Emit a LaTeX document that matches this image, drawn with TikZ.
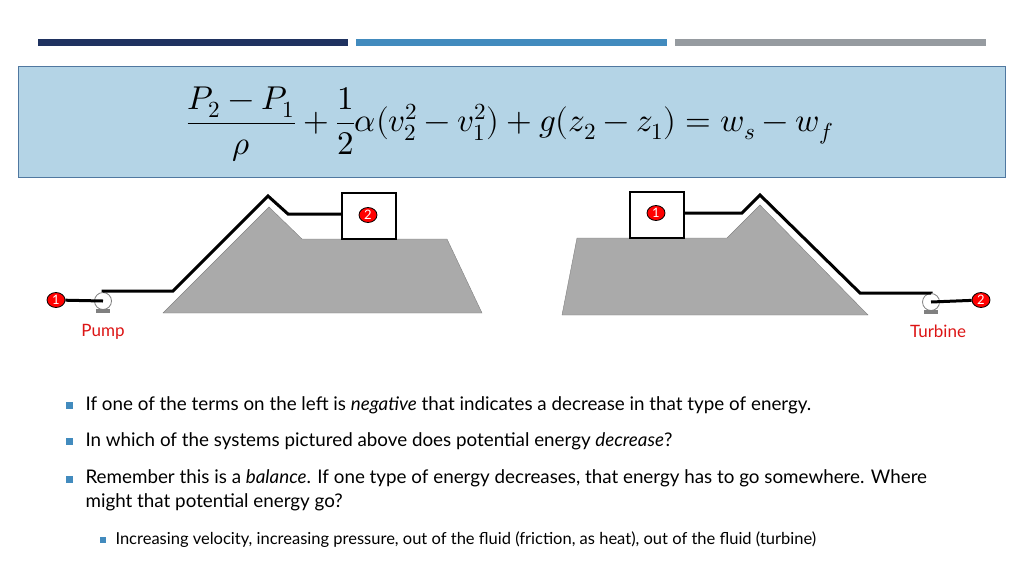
\documentclass[tikz,border=0pt]{standalone}
\usepackage{amsmath}
\usepackage{fontspec}
\usepackage{unicode-math}
\setmainfont{Lato}
\setmathfont{Latin Modern Math}
\usetikzlibrary{positioning,shapes.geometric}
\definecolor{navy}{RGB}{31,50,96}
\definecolor{barblue}{RGB}{66,139,190}
\definecolor{bargray}{RGB}{150,155,160}
\definecolor{eqfill}{RGB}{180,212,230}
\definecolor{eqline}{RGB}{80,120,160}
\definecolor{hill}{RGB}{170,170,170}
\definecolor{labred}{RGB}{220,20,20}
\tikzset{
  pt/.style={ellipse, draw=black, thick, fill=red, text=white, inner sep=0pt,
    minimum width=18pt, minimum height=15pt, font=\fontsize{13}{13}\selectfont},
  tank/.style={draw=black, line width=2pt, fill=white, minimum width=54pt, minimum height=46pt},
  pipe/.style={line width=3pt, black},
  machine/.style={circle, draw=gray, thick, fill=white, minimum size=17pt, inner sep=0pt},
  bul/.style={fill=barblue, minimum size=7pt, inner sep=0pt},
  txt/.style={anchor=west, font=\fontsize{18.8}{24}\selectfont, align=left}
}
\begin{document}
\begin{tikzpicture}[x=1pt,y=-1pt]
\useasboundingbox (0,0) rectangle (1024,576);
% top bars
\fill[navy] (38,39) rectangle (348,46);
\fill[barblue] (356,39) rectangle (667,46);
\fill[bargray] (675,39) rectangle (986,46);
% equation
\node[draw=eqline, fill=eqfill, line width=1.2pt, minimum width=987pt, minimum height=111pt,
  anchor=north west] (eq) at (18,66) {};
\node (eqtext) at (510,124) {\fontsize{33}{40}\selectfont
  $\dfrac{P_2-P_1}{\rho}+\dfrac{1}{2}\alpha(v_2^2-v_1^2)+g(z_2-z_1)=w_s-w_f$};
% left system: pump
\fill[hill, draw=gray] (163,313) -- (269,207) -- (302,239) -- (447,239) -- (482,313) -- cycle;
\node[tank] (tankB) at (369,216) {};
\node[pt] (ptB) at (368,215) {2};
\coordinate (pA1) at (173,291);
\coordinate (pA2) at (268,196);
\coordinate (pA3) at (288,214);
\node[machine] (pump) at (103,301) {};
\fill[gray] (96,309) rectangle (110,313);
\draw[pipe] (pump.north) |- (pA1) -- (pA2) -- (pA3) -- (tankB.west |- pA3);
\node[pt] (ptA) at (56,300) {1};
\draw[pipe] (ptA) -- (pump.center);
\node[text=labred, font=\fontsize{17}{17}\selectfont] (pumplab) at (103,332) {Pump};
% right system: turbine
\fill[hill, draw=gray] (562,315) -- (577,238) -- (727,238) -- (760,205) -- (868,315) -- cycle;
\node[tank] (tankA) at (657,215) {};
\node[pt] (ptC) at (656,213) {1};
\coordinate (pB1) at (742,213);
\coordinate (pB2) at (760,195);
\coordinate (pB3) at (860,293);
\node[machine] (turb) at (931,302) {};
\fill[gray] (924,310) rectangle (938,314);
\draw[pipe] (tankA.east |- pB1) -- (pB1) -- (pB2) -- (pB3) -| (turb.north);
\node[pt] (ptD) at (981,300) {2};
\draw[pipe] (turb.center) -- (ptD);
\node[text=labred, font=\fontsize{17}{17}\selectfont] (turblab) at (938,331) {Turbine};
% bullets
\node[bul] (b1) at (69,405) {};
\node[txt] (t1) at (82,405) {If one of the terms on the left is \textit{negative} that indicates a decrease in that type of energy.};
\node[bul] (b2) at (69,441) {};
\node[txt] (t2) at (82,441) {In which of the systems pictured above does potential energy \textit{decrease}?};
\node[bul] (b3) at (69,479) {};
\node[txt, anchor=north west] (t3) at (82,466) {Remember this is a \textit{balance}. If one type of energy decreases, that energy has to go somewhere. Where\\might that potential energy go?};
\node[bul, minimum size=6pt] (b4) at (103,540) {};
\node[txt, font=\fontsize{16.5}{20}\selectfont] (t4) at (112,540) {Increasing velocity, increasing pressure, out of the fluid (friction, as heat), out of the fluid (turbine)};
\end{tikzpicture}
\end{document}
